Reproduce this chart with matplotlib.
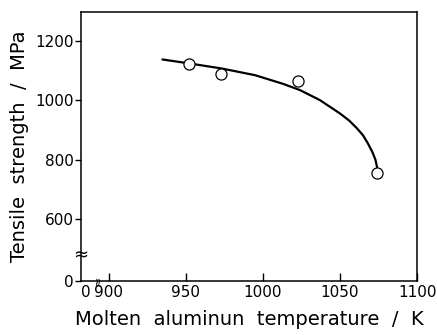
import matplotlib.pyplot as plt
import numpy as np

# measured points (temperature K, tensile strength MPa)
temp_k = [952, 973, 1023, 1074]
strength_mpa = [1123, 1088, 1066, 755]

# fitted curve
curve_temp = [935, 952, 973, 995, 1013, 1024, 1037, 1050, 1056, 1061, 1065, 1068, 1071, 1073, 1074]
curve_strength = [1138, 1125, 1108, 1085, 1056, 1035, 1001, 956, 932, 906, 882, 856, 826, 800, 776]

# broken axes: bottom / left ends stand for 0
y_zero = 391
x_zero = 882
yticks = [y_zero, 600, 800, 1000, 1200]
ytick_labels = ['0', '600', '800', '1000', '1200']
xticks = [x_zero, 900, 950, 1000, 1050, 1100]
xtick_labels = ['0', '900', '950', '1000', '1050', '1100']

narrow = ['Liberation Sans Narrow', 'DejaVu Sans']

fig = plt.figure(figsize=(4.37, 3.35), dpi=100)
ax = fig.add_axes([0.1854, 0.161, 0.769, 0.803])

ax.plot(curve_temp, curve_strength, color='black', lw=1.6, zorder=2)
ax.plot(temp_k, strength_mpa, 'o', ms=8, mfc='white', mec='black', mew=0.9, zorder=3)

ax.set_xlim(x_zero, 1100)
ax.set_ylim(y_zero, 1298)
ax.set_xticks(xticks)
ax.set_xticklabels(xtick_labels, family=narrow, fontsize=11)
ax.set_yticks(yticks)
ax.set_yticklabels(ytick_labels, family=narrow, fontsize=11)
ax.tick_params(axis='x', direction='in', length=6, width=1, pad=3)
ax.tick_params(axis='y', direction='out', length=4, width=1, pad=1)
ax.xaxis.get_major_ticks()[0].tick1line.set_visible(False)
ax.get_xticklabels()[0].set_horizontalalignment('left')

for s in ax.spines.values():
    s.set_linewidth(1.1)

# axis break marks
ax.text(0, 0.097, '\u2248', transform=ax.transAxes, ha='center', va='center',
        fontsize=13, zorder=5)
ax.text(0.05, 0.003, '\u2248', transform=ax.transAxes, ha='center', va='center',
        fontsize=9, rotation=90, zorder=5)

ax.set_xlabel('Molten  aluminun  temperature  /  K', fontsize=14, labelpad=7)
ax.set_ylabel('Tensile  strength  /  MPa', fontsize=14, labelpad=5)

fig.savefig('out.png', dpi=100)
